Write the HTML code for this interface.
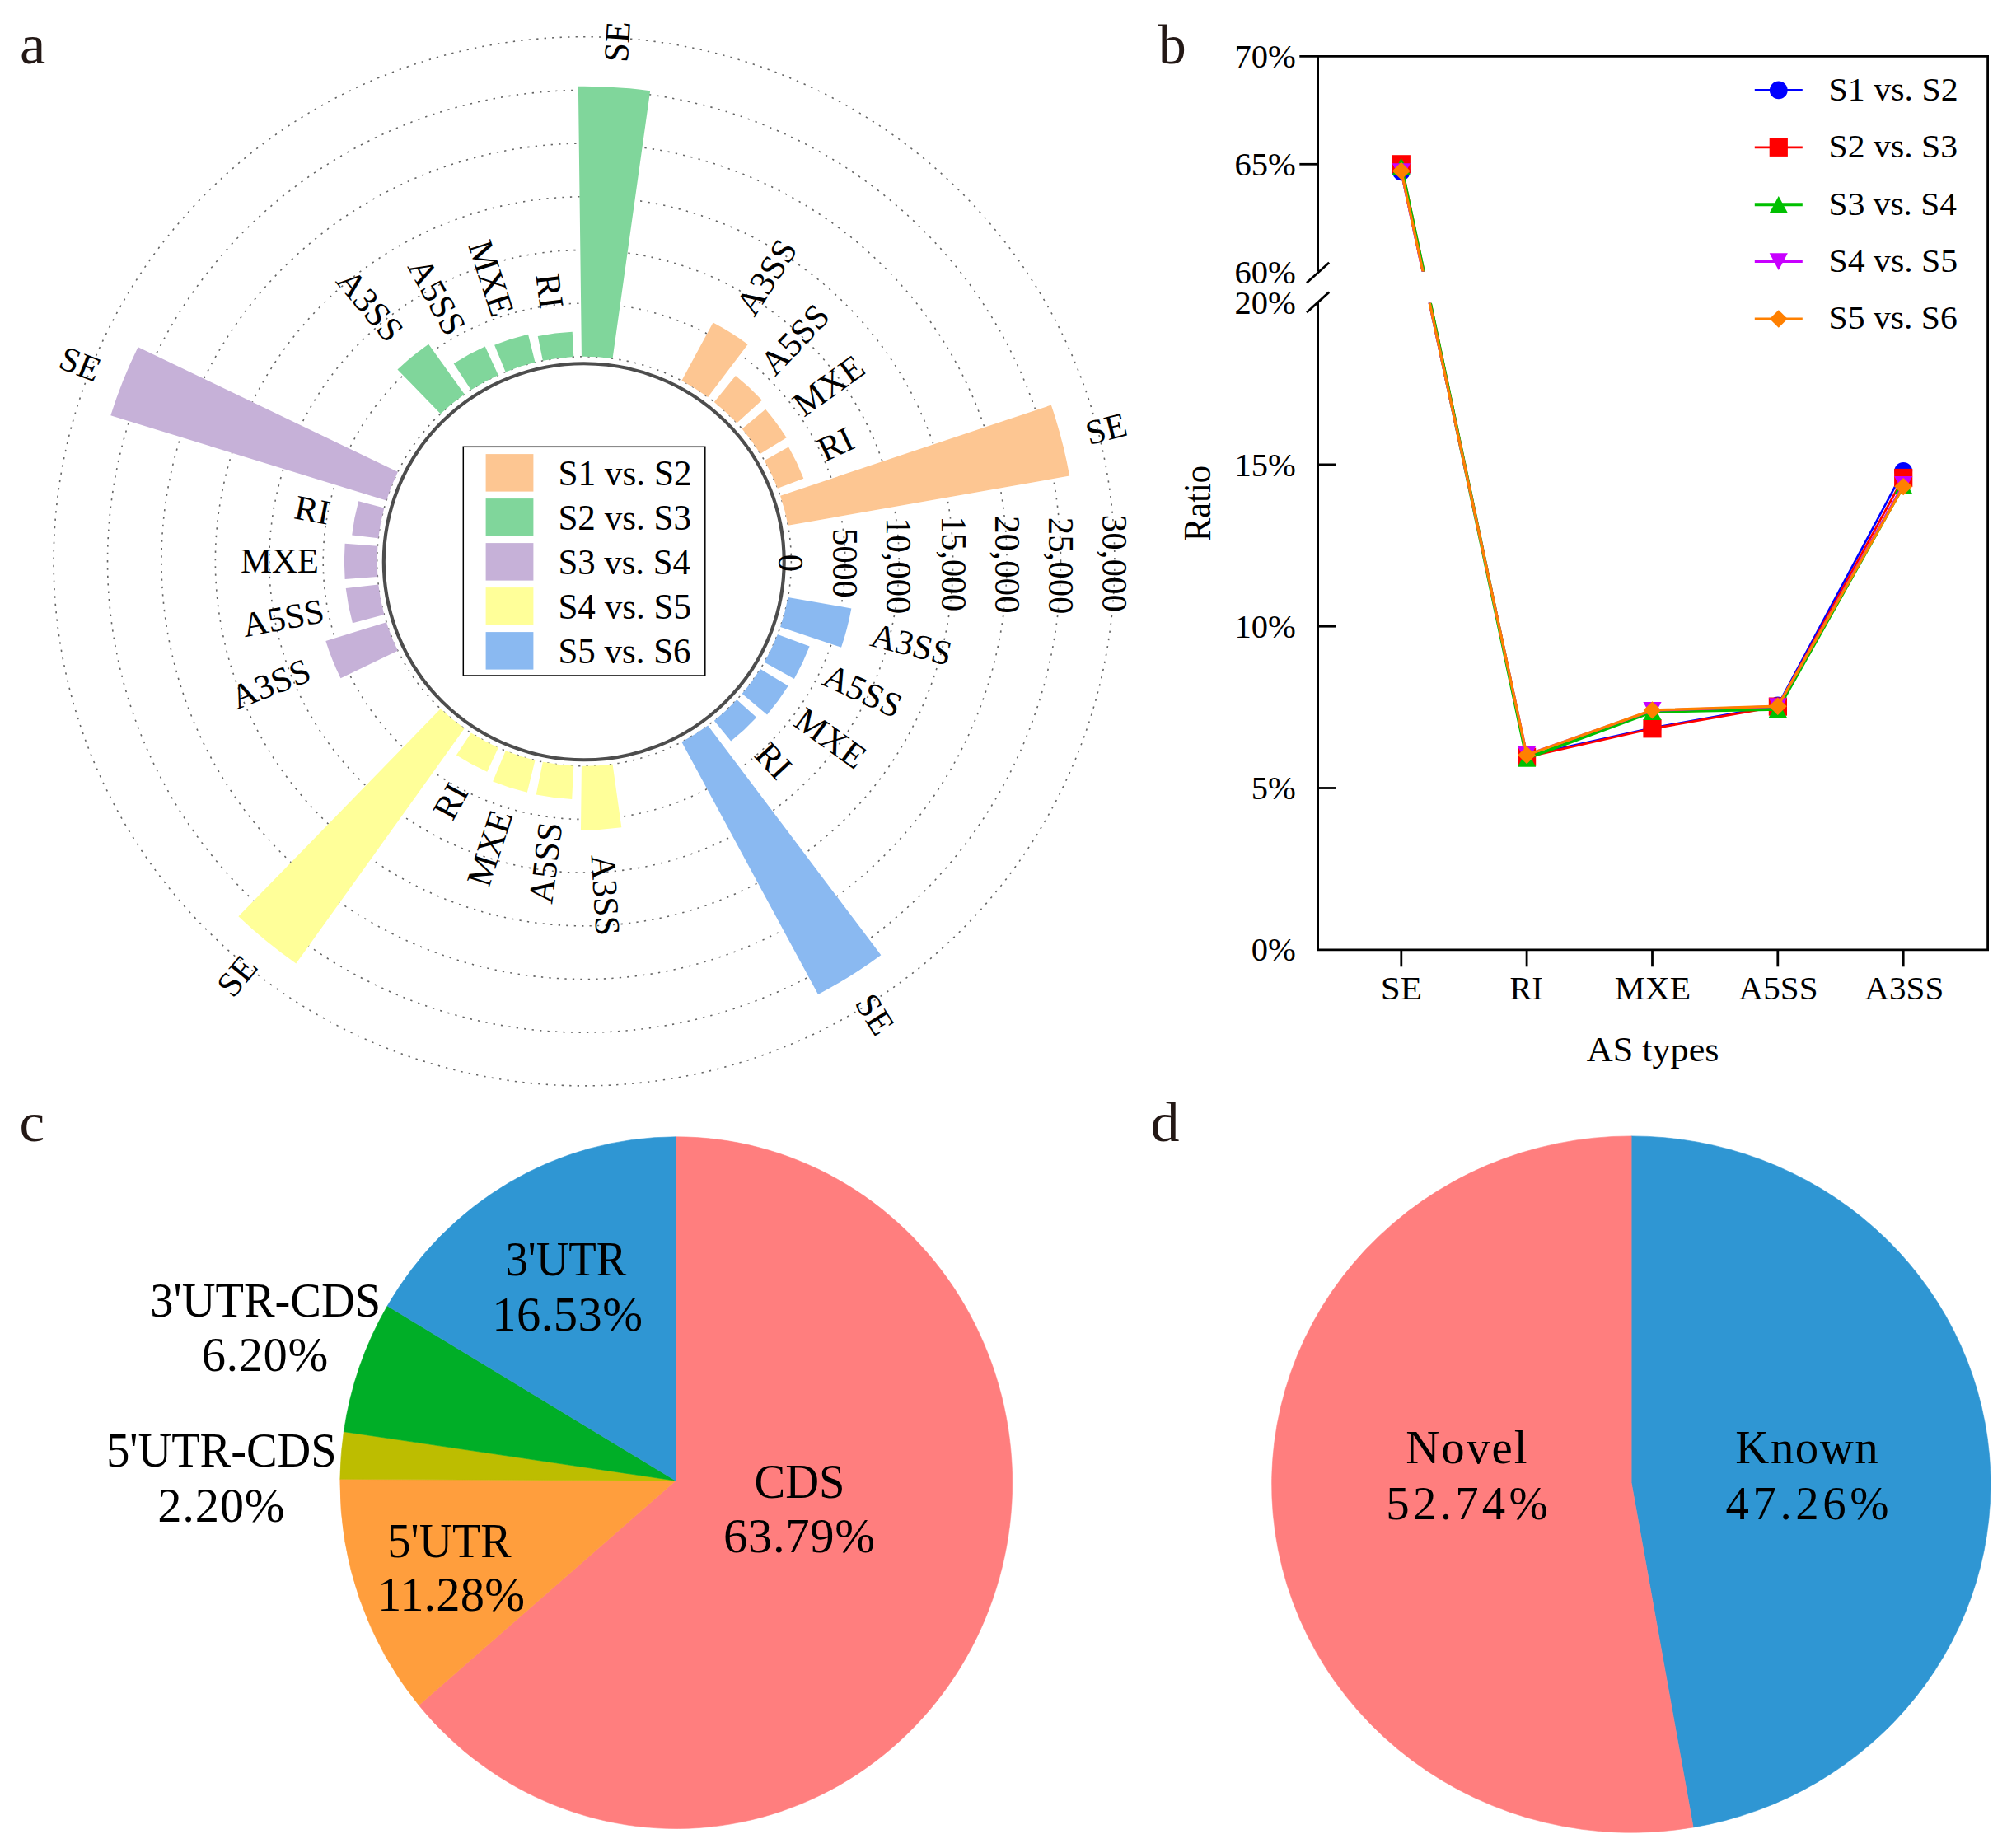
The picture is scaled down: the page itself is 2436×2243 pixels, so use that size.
<!DOCTYPE html>
<html lang="en"><head><meta charset="utf-8"><title>Figure</title>
<style>
html,body{margin:0;padding:0;background:#fff;}
svg{display:block;}
text{font-family:"Liberation Serif", serif;white-space:pre;}
</style></head><body>
<svg width="2436" height="2243" viewBox="0 0 2436 2243">
<rect width="2436" height="2243" fill="#fff"/>
<g id="panel-letters">
<text x="23.93" y="76.60" font-size="67.50" textLength="31.35" lengthAdjust="spacingAndGlyphs" fill="#231815">a</text>
<text x="1406.10" y="76.60" font-size="68.50" textLength="33.73" lengthAdjust="spacingAndGlyphs" fill="#231815">b</text>
<text x="23.51" y="1385.00" font-size="67.50" textLength="30.66" lengthAdjust="spacingAndGlyphs" fill="#231815">c</text>
<text x="1396.45" y="1385.20" font-size="68.50" textLength="35.03" lengthAdjust="spacingAndGlyphs" fill="#231815">d</text>
</g>
<g id="polar" transform="translate(709.0,681.3) scale(1.0115,1)">
<g fill="none" stroke="#666" stroke-width="1.6" stroke-dasharray="2.3 7.1">
<circle r="248.50"/>
<circle r="313.18"/>
<circle r="377.86"/>
<circle r="442.54"/>
<circle r="507.22"/>
<circle r="571.90"/>
<circle r="636.58"/>
</g>
<path d="M244.65 -43.58L582.46 -103.75A591.62 591.62 0 0 0 560.39 -189.68L235.38 -79.67A248.5 248.5 0 0 1 244.65 -43.58Z" fill="#FDC692"/>
<path d="M232.15 -88.65L263.31 -100.55A281.85 281.85 0 0 0 245.31 -138.79L216.28 -122.37A248.5 248.5 0 0 1 232.15 -88.65Z" fill="#FDC692"/>
<path d="M211.43 -130.58L242.79 -149.95A285.36 285.36 0 0 0 217.64 -184.57L189.52 -160.73A248.5 248.5 0 0 1 211.43 -130.58Z" fill="#FDC692"/>
<path d="M183.21 -167.88L213.41 -195.55A289.45 289.45 0 0 0 181.77 -225.27L156.05 -193.39A248.5 248.5 0 0 1 183.21 -167.88Z" fill="#FDC692"/>
<path d="M148.51 -199.24L196.34 -263.41A328.53 328.53 0 0 0 154.74 -289.80L117.05 -219.21A248.5 248.5 0 0 1 148.51 -199.24Z" fill="#FDC692"/>
<path d="M34.15 -246.14L79.25 -571.10A576.57 576.57 0 0 0 -7.04 -576.53L-3.04 -248.48A248.5 248.5 0 0 1 34.15 -246.14Z" fill="#80D69B"/>
<path d="M-12.57 -248.18L-14.11 -278.59A278.95 278.95 0 0 0 -55.61 -273.35L-49.54 -243.51A248.5 248.5 0 0 1 -12.57 -248.18Z" fill="#80D69B"/>
<path d="M-58.85 -241.43L-67.19 -275.62A283.69 283.69 0 0 0 -107.65 -262.48L-94.29 -229.91A248.5 248.5 0 0 1 -58.85 -241.43Z" fill="#80D69B"/>
<path d="M-103.05 -226.13L-118.87 -260.84A286.64 286.64 0 0 0 -156.54 -240.13L-135.71 -208.17A248.5 248.5 0 0 1 -103.05 -226.13Z" fill="#80D69B"/>
<path d="M-143.60 -202.81L-186.65 -263.62A323.01 323.01 0 0 0 -223.97 -232.74L-172.31 -179.06A248.5 248.5 0 0 1 -143.60 -202.81Z" fill="#80D69B"/>
<path d="M-223.54 -108.55L-535.32 -259.94A595.10 595.10 0 0 0 -568.18 -176.97L-237.26 -73.90A248.5 248.5 0 0 1 -223.54 -108.55Z" fill="#C6B1D8"/>
<path d="M-239.92 -64.74L-270.71 -73.04A280.39 280.39 0 0 0 -278.59 -31.74L-246.90 -28.13A248.5 248.5 0 0 1 -239.92 -64.74Z" fill="#C6B1D8"/>
<path d="M-247.80 -18.63L-287.08 -21.59A287.89 287.89 0 0 0 -287.08 21.59L-247.80 18.63A248.5 248.5 0 0 1 -247.80 -18.63Z" fill="#C6B1D8"/>
<path d="M-246.90 28.13L-285.96 32.58A287.81 287.81 0 0 0 -277.87 74.98L-239.92 64.74A248.5 248.5 0 0 1 -246.90 28.13Z" fill="#C6B1D8"/>
<path d="M-237.26 73.90L-310.09 96.58A324.78 324.78 0 0 0 -292.16 141.86L-223.54 108.55A248.5 248.5 0 0 1 -237.26 73.90Z" fill="#C6B1D8"/>
<path d="M-172.31 179.06L-414.82 431.06A598.23 598.23 0 0 0 -345.69 488.24L-143.60 202.81A248.5 248.5 0 0 1 -172.31 179.06Z" fill="#FFFF99"/>
<path d="M-135.71 208.17L-153.32 235.20A280.76 280.76 0 0 0 -116.43 255.48L-103.05 226.13A248.5 248.5 0 0 1 -135.71 208.17Z" fill="#FFFF99"/>
<path d="M-94.29 229.91L-109.54 267.10A288.69 288.69 0 0 0 -68.37 280.47L-58.85 241.43A248.5 248.5 0 0 1 -94.29 229.91Z" fill="#FFFF99"/>
<path d="M-49.54 243.51L-57.61 283.15A288.95 288.95 0 0 0 -14.62 288.58L-12.57 248.18A248.5 248.5 0 0 1 -49.54 243.51Z" fill="#FFFF99"/>
<path d="M-3.04 248.48L-3.98 325.96A325.99 325.99 0 0 0 44.80 322.89L34.15 246.14A248.5 248.5 0 0 1 -3.04 248.48Z" fill="#FFFF99"/>
<path d="M117.05 219.21L280.75 525.80A596.06 596.06 0 0 0 356.22 477.90L148.51 199.24A248.5 248.5 0 0 1 117.05 219.21Z" fill="#8AB9F1"/>
<path d="M156.05 193.39L176.14 218.30A280.50 280.50 0 0 0 206.81 189.50L183.21 167.88A248.5 248.5 0 0 1 156.05 193.39Z" fill="#8AB9F1"/>
<path d="M189.52 160.73L219.53 186.18A287.85 287.85 0 0 0 244.90 151.26L211.43 130.58A248.5 248.5 0 0 1 189.52 160.73Z" fill="#8AB9F1"/>
<path d="M216.28 122.37L252.04 142.60A289.58 289.58 0 0 0 270.53 103.30L232.15 88.65A248.5 248.5 0 0 1 216.28 122.37Z" fill="#8AB9F1"/>
<path d="M235.38 79.67L308.50 104.42A325.69 325.69 0 0 0 320.64 57.12L244.65 43.58A248.5 248.5 0 0 1 235.38 79.67Z" fill="#8AB9F1"/>
<ellipse cx="-0.247" cy="0.450" rx="240.188" ry="240.55" fill="none" stroke="#4d4d4d" stroke-width="4.1"/>
<g font-size="42.3" fill="#000">
<text transform="translate(602.58,-154.72) rotate(-14.40)" text-anchor="start" y="14.00">SE</text>
<text transform="translate(282.63,-132.99) rotate(-25.20)" text-anchor="start" y="14.00">RI</text>
<text transform="translate(255.54,-185.66) rotate(-36.00)" text-anchor="start" y="14.00">MXE</text>
<text transform="translate(219.02,-233.24) rotate(-46.80)" text-anchor="start" y="14.00">A5SS</text>
<text transform="translate(192.38,-303.14) rotate(-57.60)" text-anchor="start" y="14.00">A3SS</text>
<text transform="translate(38.12,-605.88) rotate(-86.40)" text-anchor="start" y="14.00">SE</text>
<text transform="translate(-38.78,-307.01) rotate(82.80)" text-anchor="end" y="14.00">RI</text>
<text transform="translate(-97.09,-298.82) rotate(72.00)" text-anchor="end" y="14.00">MXE</text>
<text transform="translate(-152.79,-277.92) rotate(61.20)" text-anchor="end" y="14.00">A5SS</text>
<text transform="translate(-225.33,-272.38) rotate(50.40)" text-anchor="end" y="14.00">A3SS</text>
<text transform="translate(-581.67,-230.30) rotate(21.60)" text-anchor="end" y="14.00">SE</text>
<text transform="translate(-305.38,-58.26) rotate(10.80)" text-anchor="end" y="14.00">RI</text>
<text transform="translate(-318.39,-0.00) rotate(-0.00)" text-anchor="end" y="14.00">MXE</text>
<text transform="translate(-312.67,59.65) rotate(-10.80)" text-anchor="end" y="14.00">A5SS</text>
<text transform="translate(-330.33,130.79) rotate(-21.60)" text-anchor="end" y="14.00">A3SS</text>
<text transform="translate(-400.77,484.45) rotate(-50.40)" text-anchor="end" y="14.00">SE</text>
<text transform="translate(-149.95,272.76) rotate(-61.20)" text-anchor="end" y="14.00">RI</text>
<text transform="translate(-98.63,303.57) rotate(-72.00)" text-anchor="end" y="14.00">MXE</text>
<text transform="translate(-40.04,316.93) rotate(-82.80)" text-anchor="end" y="14.00">A5SS</text>
<text transform="translate(22.38,355.78) rotate(-273.60)" text-anchor="start" y="14.00">A3SS</text>
<text transform="translate(335.73,529.02) rotate(-302.40)" text-anchor="start" y="14.00">SE</text>
<text transform="translate(212.90,226.71) rotate(-313.20)" text-anchor="start" y="14.00">RI</text>
<text transform="translate(257.55,187.12) rotate(-324.00)" text-anchor="start" y="14.00">MXE</text>
<text transform="translate(289.62,136.28) rotate(-334.80)" text-anchor="start" y="14.00">A5SS</text>
<text transform="translate(345.00,88.58) rotate(-345.60)" text-anchor="start" y="14.00">A3SS</text>
</g>
</g>
<g id="polar-rticks">
<g transform="translate(960.05,683.3) rotate(90)"><text x="-10.76" y="14.60" font-size="44.00" textLength="21.53" lengthAdjust="spacingAndGlyphs" fill="#000">0</text></g>
<g transform="translate(1025.6,683.9) rotate(90)"><text x="-42.41" y="14.60" font-size="44.00" textLength="83.99" lengthAdjust="spacingAndGlyphs" fill="#000">5000</text></g>
<g transform="translate(1091.1,687.9) rotate(90)"><text x="-59.63" y="14.60" font-size="44.00" textLength="117.12" lengthAdjust="spacingAndGlyphs" fill="#000">10,000</text></g>
<g transform="translate(1157.8,685.2) rotate(90)"><text x="-58.88" y="14.60" font-size="44.00" textLength="115.66" lengthAdjust="spacingAndGlyphs" fill="#000">15,000</text></g>
<g transform="translate(1222.3,685.4) rotate(90)"><text x="-59.43" y="14.60" font-size="44.00" textLength="118.65" lengthAdjust="spacingAndGlyphs" fill="#000">20,000</text></g>
<g transform="translate(1287.6,686.7) rotate(90)"><text x="-58.97" y="14.60" font-size="44.00" textLength="117.72" lengthAdjust="spacingAndGlyphs" fill="#000">25,000</text></g>
<g transform="translate(1353.1,684.1) rotate(90)"><text x="-59.24" y="14.60" font-size="44.00" textLength="118.05" lengthAdjust="spacingAndGlyphs" fill="#000">30,000</text></g>
</g>
<g id="polar-legend">
<rect x="562.3" y="542.3" width="293.5" height="277.7" fill="#fff" stroke="#000" stroke-width="1.5"/>
<rect x="589.6" y="551.1" width="57.8" height="45.5" fill="#FDC692"/>
<text x="677.38" y="588.50" font-size="43.75" textLength="162.26" lengthAdjust="spacingAndGlyphs" fill="#000">S1 vs. S2</text>
<rect x="589.6" y="605.1" width="57.8" height="45.5" fill="#80D69B"/>
<text x="677.39" y="642.50" font-size="43.75" textLength="161.59" lengthAdjust="spacingAndGlyphs" fill="#000">S2 vs. S3</text>
<rect x="589.6" y="659.1" width="57.8" height="45.5" fill="#C6B1D8"/>
<text x="677.41" y="696.50" font-size="43.75" textLength="160.49" lengthAdjust="spacingAndGlyphs" fill="#000">S3 vs. S4</text>
<rect x="589.6" y="713.1" width="57.8" height="45.5" fill="#FFFF99"/>
<text x="677.39" y="750.50" font-size="43.75" textLength="161.59" lengthAdjust="spacingAndGlyphs" fill="#000">S4 vs. S5</text>
<rect x="589.6" y="767.1" width="57.8" height="45.5" fill="#8AB9F1"/>
<text x="677.40" y="804.50" font-size="43.75" textLength="161.15" lengthAdjust="spacingAndGlyphs" fill="#000">S5 vs. S6</text>
</g>
<g id="panel-b">
<g stroke="#000" stroke-width="2.8" fill="none" stroke-linecap="butt">
<path d="M1577.3 68.4H2414.0"/>
<path d="M2412.6 68.4V1152.8"/>
<path d="M1598.1999999999998 1152.8H2414.0"/>
<path d="M1599.6 68.4V329"/>
<path d="M1599.6 366.5V1152.8"/>
<path d="M1586.0 343.3L1613.2 318.7"/>
<path d="M1586.0 379.2L1613.2 354.6"/>
<path d="M1577.3 199.3H1599.6"/>
<path d="M1599.6 563.9h21.5"/>
<path d="M1599.6 760.2h21.5"/>
<path d="M1599.6 956.5h21.5"/>
<path d="M1700.8 1152.8V1173.3"/>
<path d="M1853.1 1152.8V1173.3"/>
<path d="M2005.5 1152.8V1173.3"/>
<path d="M2157.8 1152.8V1173.3"/>
<path d="M2310.2 1152.8V1173.3"/>
</g>
<text x="1498.42" y="82.00" font-size="40.20" textLength="74.42" lengthAdjust="spacingAndGlyphs" fill="#000">70%</text>
<text x="1498.42" y="212.90" font-size="40.20" textLength="74.42" lengthAdjust="spacingAndGlyphs" fill="#000">65%</text>
<text x="1498.42" y="343.60" font-size="40.20" textLength="74.42" lengthAdjust="spacingAndGlyphs" fill="#000">60%</text>
<text x="1498.42" y="380.50" font-size="40.20" textLength="74.42" lengthAdjust="spacingAndGlyphs" fill="#000">20%</text>
<text x="1498.42" y="577.50" font-size="40.20" textLength="74.42" lengthAdjust="spacingAndGlyphs" fill="#000">15%</text>
<text x="1498.42" y="773.80" font-size="40.20" textLength="74.42" lengthAdjust="spacingAndGlyphs" fill="#000">10%</text>
<text x="1518.72" y="970.10" font-size="40.20" textLength="54.12" lengthAdjust="spacingAndGlyphs" fill="#000">5%</text>
<text x="1518.72" y="1166.40" font-size="40.20" textLength="54.12" lengthAdjust="spacingAndGlyphs" fill="#000">0%</text>
<text x="1675.89" y="1213.20" font-size="39.30" textLength="50.36" lengthAdjust="spacingAndGlyphs" fill="#000">SE</text>
<text x="1832.49" y="1213.20" font-size="39.30" textLength="40.21" lengthAdjust="spacingAndGlyphs" fill="#000">RI</text>
<text x="1959.76" y="1213.20" font-size="39.30" textLength="92.41" lengthAdjust="spacingAndGlyphs" fill="#000">MXE</text>
<text x="2110.59" y="1213.20" font-size="39.30" textLength="95.96" lengthAdjust="spacingAndGlyphs" fill="#000">A5SS</text>
<text x="2263.39" y="1213.20" font-size="39.30" textLength="95.86" lengthAdjust="spacingAndGlyphs" fill="#000">A3SS</text>
<text x="1925.76" y="1288.20" font-size="42.50" textLength="160.66" lengthAdjust="spacingAndGlyphs" fill="#000">AS types</text>
<g transform="translate(1469.2,611.2) rotate(-90)"><text x="-45.87" y="0.00" font-size="46.00" textLength="92.12" lengthAdjust="spacingAndGlyphs" fill="#000">Ratio</text></g>
<defs><clipPath id="brk"><rect x="1601" y="60" width="810" height="269.5"/><rect x="1601" y="367.8" width="810" height="784"/></clipPath></defs>
<g clip-path="url(#brk)">
<polyline points="1700.8,208.3 1853.1,917.2 2005.5,883.5 2157.8,856.4 2310.2,571.8" fill="none" stroke="#0000FF" stroke-width="2.7" stroke-linejoin="miter"/>
<circle cx="1700.8" cy="208.3" r="10.9" fill="#0000FF"/>
<circle cx="1853.1" cy="917.2" r="10.9" fill="#0000FF"/>
<circle cx="2005.5" cy="883.5" r="10.9" fill="#0000FF"/>
<circle cx="2157.8" cy="856.4" r="10.9" fill="#0000FF"/>
<circle cx="2310.2" cy="571.8" r="10.9" fill="#0000FF"/>
<polyline points="1700.8,199.3 1853.1,918.8 2005.5,884.3 2157.8,857.6 2310.2,580.0" fill="none" stroke="#FF0000" stroke-width="2.7" stroke-linejoin="miter"/>
<rect x="1689.7" y="188.2" width="22.2" height="22.2" fill="#FF0000"/>
<rect x="1842.0" y="907.7" width="22.2" height="22.2" fill="#FF0000"/>
<rect x="1994.4" y="873.2" width="22.2" height="22.2" fill="#FF0000"/>
<rect x="2146.8" y="846.5" width="22.2" height="22.2" fill="#FF0000"/>
<rect x="2299.1" y="568.9" width="22.2" height="22.2" fill="#FF0000"/>
<polyline points="1700.8,202.2 1853.1,920.4 2005.5,863.8 2157.8,860.7 2310.2,589.4" fill="none" stroke="#00C000" stroke-width="4.0" stroke-linejoin="miter"/>
<path d="M1689.7 212.5L1700.8 191.9L1711.9 212.5Z" fill="#00C000"/>
<path d="M1842.0 930.7L1853.1 910.1L1864.2 930.7Z" fill="#00C000"/>
<path d="M1994.4 874.1L2005.5 853.5L2016.6 874.1Z" fill="#00C000"/>
<path d="M2146.8 871.0L2157.8 850.4L2168.9 871.0Z" fill="#00C000"/>
<path d="M2299.1 599.7L2310.2 579.1L2321.3 599.7Z" fill="#00C000"/>
<polyline points="1700.8,208.5 1853.1,916.1 2005.5,862.3 2157.8,857.6 2310.2,588.2" fill="none" stroke="#C800FF" stroke-width="3.0" stroke-linejoin="miter"/>
<path d="M1689.7 198.2L1700.8 218.8L1711.9 198.2Z" fill="#C800FF"/>
<path d="M1842.0 905.8L1853.1 926.4L1864.2 905.8Z" fill="#C800FF"/>
<path d="M1994.4 852.0L2005.5 872.6L2016.6 852.0Z" fill="#C800FF"/>
<path d="M2146.8 847.3L2157.8 867.9L2168.9 847.3Z" fill="#C800FF"/>
<path d="M2299.1 577.9L2310.2 598.5L2321.3 577.9Z" fill="#C800FF"/>
<polyline points="1700.8,207.5 1853.1,916.5 2005.5,861.9 2157.8,857.2 2310.2,590.6" fill="none" stroke="#FF8000" stroke-width="3.2" stroke-linejoin="miter"/>
<path d="M1689.9 207.5L1700.8 196.8L1711.7 207.5L1700.8 218.2Z" fill="#FF8000"/>
<path d="M1842.2 916.5L1853.1 905.8L1864.0 916.5L1853.1 927.2Z" fill="#FF8000"/>
<path d="M1994.6 861.9L2005.5 851.2L2016.4 861.9L2005.5 872.6Z" fill="#FF8000"/>
<path d="M2146.9 857.2L2157.8 846.5L2168.8 857.2L2157.8 867.9Z" fill="#FF8000"/>
<path d="M2299.3 590.6L2310.2 579.9L2321.1 590.6L2310.2 601.3Z" fill="#FF8000"/>
</g>
<path d="M2129.8 109.4H2187.8" stroke="#0000FF" stroke-width="2.7" fill="none"/>
<circle cx="2158.8" cy="109.4" r="10.9" fill="#0000FF"/>
<text x="2219.57" y="121.70" font-size="39.00" textLength="157.19" lengthAdjust="spacingAndGlyphs" fill="#000">S1 vs. S2</text>
<path d="M2129.8 178.8H2187.8" stroke="#FF0000" stroke-width="2.7" fill="none"/>
<rect x="2147.7" y="167.7" width="22.2" height="22.2" fill="#FF0000"/>
<text x="2219.58" y="191.10" font-size="39.00" textLength="156.55" lengthAdjust="spacingAndGlyphs" fill="#000">S2 vs. S3</text>
<path d="M2129.8 248.2H2187.8" stroke="#00C000" stroke-width="4.0" fill="none"/>
<path d="M2147.7 258.5L2158.8 237.9L2169.9 258.5Z" fill="#00C000"/>
<text x="2219.60" y="260.50" font-size="39.00" textLength="155.48" lengthAdjust="spacingAndGlyphs" fill="#000">S3 vs. S4</text>
<path d="M2129.8 317.6H2187.8" stroke="#C800FF" stroke-width="3.0" fill="none"/>
<path d="M2147.7 307.3L2158.8 327.9L2169.9 307.3Z" fill="#C800FF"/>
<text x="2219.58" y="329.90" font-size="39.00" textLength="156.55" lengthAdjust="spacingAndGlyphs" fill="#000">S4 vs. S5</text>
<path d="M2129.8 387.0H2187.8" stroke="#FF8000" stroke-width="3.2" fill="none"/>
<path d="M2147.9 387.0L2158.8 376.3L2169.7 387.0L2158.8 397.7Z" fill="#FF8000"/>
<text x="2219.59" y="399.30" font-size="39.00" textLength="156.12" lengthAdjust="spacingAndGlyphs" fill="#000">S5 vs. S6</text>
</g>
<g id="panel-c">
<g>
<path d="M820.1 1797.2L820.10 1379.80A407.95 419.85 0 1 1 508.43 2069.76Z" fill="#FF7E7E" stroke="#FF7E7E" stroke-width="0.6" stroke-linejoin="round"/>
<path d="M820.1 1797.2L508.43 2069.76A407.95 419.85 0 0 1 412.82 1795.36Z" fill="#FF9E3D" stroke="#FF9E3D" stroke-width="0.6" stroke-linejoin="round"/>
<path d="M820.1 1797.2L412.82 1795.36A407.95 419.85 0 0 1 417.27 1737.66Z" fill="#BDBD00" stroke="#BDBD00" stroke-width="0.6" stroke-linejoin="round"/>
<path d="M820.1 1797.2L417.27 1737.66A407.95 419.85 0 0 1 470.10 1585.09Z" fill="#00AE27" stroke="#00AE27" stroke-width="0.6" stroke-linejoin="round"/>
<path d="M820.1 1797.2L470.10 1585.09A407.95 419.85 0 0 1 820.10 1379.80Z" fill="#2F96D3" stroke="#2F96D3" stroke-width="0.6" stroke-linejoin="round"/>
</g>
<text x="915.44" y="1817.70" font-size="58.60" textLength="109.97" lengthAdjust="spacingAndGlyphs" fill="#000">CDS</text>
<text x="877.91" y="1884.40" font-size="58.60" textLength="184.22" lengthAdjust="spacing" fill="#000">63.79%</text>
<text x="613.40" y="1547.70" font-size="58.60" textLength="146.85" lengthAdjust="spacingAndGlyphs" fill="#000">3'UTR</text>
<text x="597.17" y="1614.60" font-size="58.60" textLength="182.96" lengthAdjust="spacing" fill="#000">16.53%</text>
<text x="470.58" y="1889.70" font-size="58.60" textLength="149.97" lengthAdjust="spacingAndGlyphs" fill="#000">5'UTR</text>
<text x="457.97" y="1954.70" font-size="58.60" textLength="178.98" lengthAdjust="spacing" fill="#000">11.28%</text>
<text x="182.32" y="1597.50" font-size="58.60" textLength="279.83" lengthAdjust="spacingAndGlyphs" fill="#000">3'UTR-CDS</text>
<text x="244.81" y="1664.10" font-size="58.60" textLength="153.42" lengthAdjust="spacing" fill="#000">6.20%</text>
<text x="129.16" y="1780.00" font-size="58.60" textLength="279.38" lengthAdjust="spacingAndGlyphs" fill="#000">5'UTR-CDS</text>
<text x="191.31" y="1846.80" font-size="58.60" textLength="154.32" lengthAdjust="spacing" fill="#000">2.20%</text>
</g>
<g id="panel-d">
<g>
<path d="M1980.1 1799.6L1980.10 1378.90A436.25 422.7 0 0 1 2055.18 2217.95Z" fill="#2F96D3" stroke="#2F96D3" stroke-width="0.6" stroke-linejoin="round"/>
<path d="M1980.1 1799.6L2055.18 2217.95A436.25 422.7 0 1 1 1980.10 1378.90Z" fill="#FF7E7E" stroke="#FF7E7E" stroke-width="0.6" stroke-linejoin="round"/>
</g>
<text x="1706.14" y="1776.30" font-size="56.80" textLength="147.48" lengthAdjust="spacing" fill="#000">Novel</text>
<text x="1682.33" y="1843.70" font-size="56.80" textLength="196.54" lengthAdjust="spacing" fill="#000">52.74%</text>
<text x="2106.34" y="1776.30" font-size="56.80" textLength="173.38" lengthAdjust="spacing" fill="#000">Known</text>
<text x="2094.56" y="1843.70" font-size="56.80" textLength="198.01" lengthAdjust="spacing" fill="#000">47.26%</text>
</g>
</svg></body></html>
